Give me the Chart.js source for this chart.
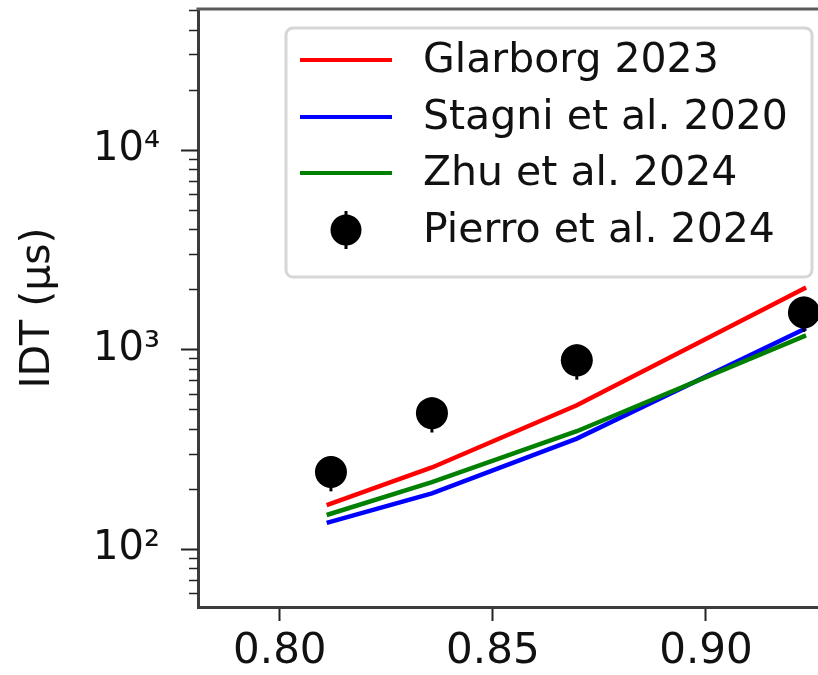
<!DOCTYPE html>
<html>
<head>
<meta charset="utf-8">
<script src="https://cdn.jsdelivr.net/npm/chart.js@4.4.1/dist/chart.umd.min.js"></script>
<style>
  html, body { margin: 0; padding: 0; background: #fff; }
  #wrap { width: 818px; height: 675px; }
</style>
</head>
<body>
<div id="wrap"><canvas id="chart" width="818" height="675"></canvas></div>
<script>
// data
const xModel = [0.811, 0.8357, 0.8697, 0.9235];
const glarborg = [166, 256, 525, 2040];
const stagni   = [135, 190, 357, 1275];
const zhu      = [148, 216, 389, 1175];

const xExp   = [0.812, 0.8357, 0.8697, 0.923];
const pierro = [243, 479, 881, 1530];
const pierroErr = [0.2, 0.2, 0.2, 0.2]; // relative error

const xTicks = [0.80, 0.85, 0.90];
const yMajor = [100, 1000, 10000];
const yMajorLabels = ['10\u00b2', '10\u00b3', '10\u2074'];
const yMinor = [60, 70, 80, 90, 200, 300, 400, 500, 600, 700, 800, 900,
  2000, 3000, 4000, 5000, 6000, 7000, 8000, 9000, 20000, 30000, 40000, 50000];

const legendLabels = ['Glarborg 2023', 'Stagni et al. 2020', 'Zhu et al. 2024', 'Pierro et al. 2024'];
const FONT = "'DejaVu Sans', sans-serif";

const pts = (xs, ys) => xs.map((x, i) => ({ x, y: ys[i] }));

// ticks, spines and error bars
const decor = {
  id: 'decor',
  afterDatasetsDraw(chart) {
    const { ctx, chartArea: a, scales: { x, y } } = chart;
    ctx.save();
    ctx.beginPath(); ctx.rect(a.left, a.top, a.right - a.left, a.bottom - a.top); ctx.clip();
    ctx.strokeStyle = '#000'; ctx.lineWidth = 3;
    pierro.forEach((v, i) => {
      const px = x.getPixelForValue(xExp[i]);
      ctx.beginPath();
      ctx.moveTo(px, y.getPixelForValue(v * (1 + pierroErr[i])));
      ctx.lineTo(px, y.getPixelForValue(v * (1 - pierroErr[i])));
      ctx.stroke();
    });
    ctx.restore();
  },
  afterDraw(chart) {
    const { ctx, chartArea: a, scales: { y } } = chart;
    ctx.save();
    // y ticks (major longer)
    y.ticks.forEach(t => {
      const py = Math.round(y.getPixelForValue(t.value)) + 0.5;
      const major = yMajor.includes(t.value);
      ctx.strokeStyle = '#222';
      ctx.lineWidth = major ? 2 : 1.5;
      ctx.beginPath();
      ctx.moveTo(a.left - (major ? 17 : 9), py);
      ctx.lineTo(a.left, py);
      ctx.stroke();
    });
    // top spine
    ctx.strokeStyle = '#5a5a5a'; ctx.lineWidth = 3;
    ctx.beginPath(); ctx.moveTo(a.left - 1.5, a.top); ctx.lineTo(a.right, a.top); ctx.stroke();

    // legend
    const bx = 286, by = 28, bw = 526, bh = 249, r = 7;
    ctx.fillStyle = 'rgba(255,255,255,0.9)';
    ctx.strokeStyle = '#d6d6d6'; ctx.lineWidth = 3;
    ctx.beginPath(); ctx.roundRect(bx, by, bw, bh, r); ctx.fill(); ctx.stroke();
    const rows = [60, 117, 173, 230];
    const ds = chart.data.datasets;
    ctx.font = '41px ' + FONT;
    ctx.textBaseline = 'middle';
    ctx.textAlign = 'left';
    legendLabels.forEach((lab, i) => {
      const d = ds.find(s => s.label === lab);
      const ry = rows[i];
      if (d.showLine === false) {
        ctx.fillStyle = '#000';
        ctx.beginPath(); ctx.arc(346, ry, 15.5, 0, Math.PI * 2); ctx.fill();
        ctx.strokeStyle = '#000'; ctx.lineWidth = 3;
        ctx.beginPath(); ctx.moveTo(346, ry - 19); ctx.lineTo(346, ry + 19); ctx.stroke();
      } else {
        ctx.strokeStyle = d.borderColor; ctx.lineWidth = 4;
        ctx.beginPath(); ctx.moveTo(300, ry); ctx.lineTo(392, ry); ctx.stroke();
      }
      ctx.fillStyle = '#111';
      ctx.fillText(lab, 423, ry + 1);
    });
    ctx.restore();
  }
};

const line = (label, ys, color, order) => ({
  label, data: pts(xModel, ys), borderColor: color, backgroundColor: color,
  borderWidth: 4.5, pointRadius: 0, tension: 0, order
});

const noPad = s => { s.paddingTop = 0; s.paddingBottom = 0; s.paddingLeft = 0; s.paddingRight = 0; };

new Chart(document.getElementById('chart'), {
  type: 'line',
  data: {
    datasets: [
      { label: 'Pierro et al. 2024', data: pts(xExp, pierro), showLine: false,
        pointRadius: 16, pointBackgroundColor: '#000', pointBorderColor: '#000',
        pointBorderWidth: 0, order: 0 },
      line('Zhu et al. 2024', zhu, '#008000', 1),
      line('Stagni et al. 2020', stagni, '#0000ff', 2),
      line('Glarborg 2023', glarborg, '#ff0000', 3)
    ]
  },
  options: {
    responsive: false,
    animation: false,
    devicePixelRatio: 1,
    layout: { autoPadding: false, padding: { top: 9, left: 0, right: 0, bottom: 0 } },
    plugins: { legend: { display: false }, tooltip: { enabled: false } },
    scales: {
      x: {
        type: 'linear', bounds: 'data', min: 0.7808, max: 0.9263,
        afterBuildTicks: s => { s.ticks = xTicks.map(v => ({ value: v })); },
        afterFit: s => { s.height = 68; noPad(s); },
        grid: { display: true, drawOnChartArea: false, drawTicks: true, tickLength: 14, tickWidth: 2, tickColor: '#222' },
        border: { display: true, color: '#3c3c3c', width: 3 },
        ticks: { color: '#111', font: { family: FONT, size: 42 }, padding: 6, maxRotation: 0,
          callback: v => v.toFixed(2) }
      },
      y: {
        type: 'logarithmic', bounds: 'data', min: 51.2, max: 50700,
        afterBuildTicks: s => {
          s.ticks = yMajor.concat(yMinor).sort((a, b) => a - b).map(v => ({ value: v, major: false }));
        },
        afterFit: s => { s.width = 198; noPad(s); },
        grid: { display: false },
        border: { display: true, color: '#3c3c3c', width: 3 },
        ticks: { color: '#111', font: { family: FONT, size: 40 }, padding: 30, autoSkip: false,
          callback: v => { const k = yMajor.indexOf(v); return k >= 0 ? yMajorLabels[k] : ''; } },
        title: { display: true, text: 'IDT (\u03bcs)', color: '#111',
          font: { family: FONT, size: 41 }, padding: { top: 14, bottom: 0 } }
      }
    }
  },
  plugins: [decor]
});
</script>
</body>
</html>
